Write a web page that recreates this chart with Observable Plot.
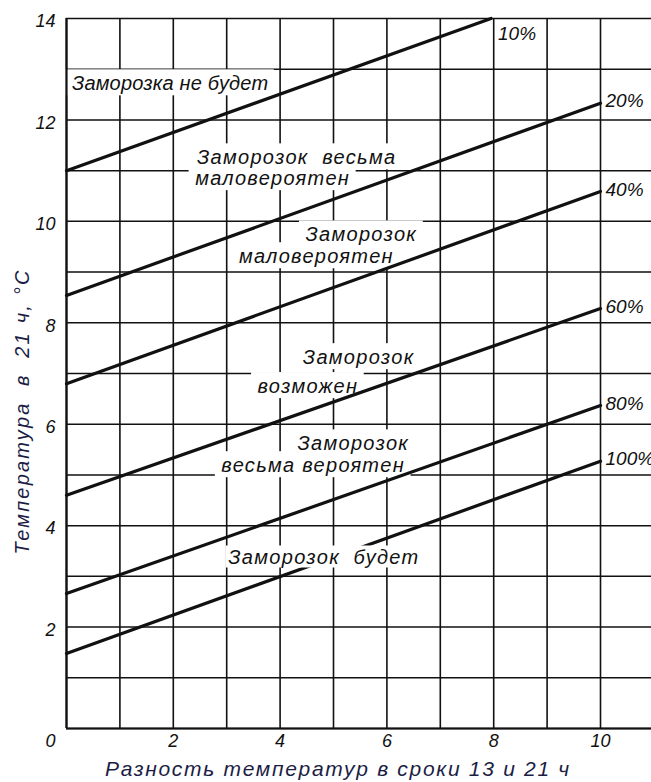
<!DOCTYPE html>
<html>
<head>
<meta charset="utf-8">
<script src="https://cdn.jsdelivr.net/npm/d3@7"></script>
<script src="https://cdn.jsdelivr.net/npm/@observablehq/plot@0.6"></script>
<style>
  html, body { margin: 0; padding: 0; background: white; }
</style>
</head>
<body>
<script>
// ---- data ----
const series = ["10%", "20%", "40%", "60%", "80%", "100%"];
const startX = [0, 0, 0, 0, 0, 0];
const startY = [11.0, 8.54, 6.80, 4.60, 2.66, 1.48];
const endX = [7.95, 10, 10, 10, 10, 10];
const endY = [14.0, 12.33, 10.59, 8.28, 6.37, 5.27];

const xGrid = [0, 1, 2, 3, 4, 5, 6, 7, 8, 9, 10];
const yGrid = [0, 1, 2, 3, 4, 5, 6, 7, 8, 9, 10, 11, 12, 13, 14];
const xTicks = [2, 4, 6, 8, 10];
const yTicks = [2, 4, 6, 8, 10, 12, 14];
const cornerTick = [0];

const regionText = ["Заморозка не будет", "Заморозок  весьма", "маловероятен", "Заморозок", "маловероятен",
  "Заморозок", "возможен", "Заморозок", "весьма вероятен", "Заморозок  будет"];
const regionX = [1.94, 4.31, 3.86, 5.52, 4.68, 5.47, 4.52, 5.37, 4.62, 4.82];
const regionY = [12.72, 11.26, 10.85, 9.74, 9.31, 7.32, 6.75, 5.62, 5.19, 3.37];

const xTitle = "Разность температур в сроки 13 и 21 ч";
const yTitle = "Температура  в  21 ч, °С";

// ---- tables ----
const lineData = series.flatMap((s, i) => [
  {series: s, x: startX[i], y: startY[i]},
  {series: s, x: endX[i], y: endY[i]}
]);
const endData = series.map((s, i) => ({series: s, x: endX[i], y: endY[i]}));
const regions = regionText.map((t, i) => ({text: t, x: regionX[i], y: regionY[i]}));

const ink = "#111";
const titleInk = "#1b1d45";
const plot = Plot.plot({
  width: 651,
  height: 782,
  marginLeft: 66,
  marginRight: 0,
  marginTop: 18,
  marginBottom: 54,
  x: {domain: [0, 10.955], axis: null},
  y: {domain: [0, 14], axis: null},
  style: {fontFamily: "'Liberation Sans', Arial, sans-serif", fontStyle: "italic", background: "white", color: ink},
  marks: [
    Plot.ruleX(xGrid, {x: d => d, stroke: ink, strokeWidth: 1.6}),
    Plot.ruleY(yGrid, {y: d => d, stroke: ink, strokeWidth: 1.5}),
    Plot.line(lineData, {x: "x", y: "y", z: "series", stroke: ink, strokeWidth: 3.2}),
    Plot.ruleX([0], {x: d => d, stroke: ink, strokeWidth: 2.2}),
    Plot.ruleY([0], {y: d => d, stroke: ink, strokeWidth: 2.2}),
    Plot.text(regions, {x: "x", y: "y", text: "text", fontSize: 20, fill: ink}),
    Plot.text(endData.filter(d => d.series !== "10%"), {x: "x", y: "y", text: "series", textAnchor: "start", dx: 5, dy: -2, fontSize: 19, fill: ink}),
    Plot.text(endData.filter(d => d.series === "10%"), {x: "x", y: "y", text: "series", textAnchor: "start", dx: 7, dy: 15, fontSize: 19, fill: ink}),
    Plot.text(yTicks, {y: d => d, text: d => String(d), frameAnchor: "left", textAnchor: "end", dx: -11, dy: 3, fontSize: 18, fill: ink}),
    Plot.text(xTicks, {x: d => d, text: d => String(d), frameAnchor: "bottom", dy: 18, fontSize: 18, fill: ink}),
    Plot.text(cornerTick, {x: d => d, text: d => String(d), frameAnchor: "bottom", dx: -16, dy: 18, fontSize: 18, fill: ink}),
    Plot.text([xTitle], {text: d => d, frameAnchor: "bottom", textAnchor: "middle", dx: -21, dy: 47, fontSize: 21, fill: titleInk}),
    Plot.text([yTitle], {text: d => d, frameAnchor: "left", textAnchor: "middle", rotate: -90, dx: -44, dy: 38, fontSize: 20, fill: titleInk})
  ]
});
document.body.appendChild(plot);

// styling and white boxes behind region labels (boxes derived from the text bounding boxes)
const ns = "http://www.w3.org/2000/svg";
try {
  const textGroups = plot.querySelectorAll('g[aria-label="text"]');
  const regionG = textGroups[0];
  regionG.style.letterSpacing = "1.3px";
  textGroups[6].style.letterSpacing = "1.7px";
  textGroups[7].style.letterSpacing = "2.2px";
  const regionTexts = Array.from(regionG.querySelectorAll("text"));
  regionTexts[0].style.letterSpacing = "0.2px";
  const lineG = plot.querySelector('g[aria-label="line"]');
  const under = document.createElementNS(ns, "g");
  const over = document.createElementNS(ns, "g");
  regionTexts.forEach((t, i) => {
    const b = t.getBBox();
    const r = document.createElementNS(ns, "rect");
    const cover = i === regionTexts.length - 1; // this label sits on the 100% line and hides it
    const px = cover ? 2 : 6, py = cover ? 0 : 2;
    r.setAttribute("x", b.x - px);
    r.setAttribute("y", b.y - py);
    r.setAttribute("width", b.width + 2 * px);
    r.setAttribute("height", b.height + 2 * py);
    if (t.getAttribute("transform")) r.setAttribute("transform", t.getAttribute("transform"));
    r.setAttribute("fill", "white");
    (cover ? over : under).appendChild(r);
  });
  lineG.parentNode.insertBefore(under, lineG);
  regionG.parentNode.insertBefore(over, regionG);
} catch (e) { console.error(e); }
</script>
</body>
</html>
